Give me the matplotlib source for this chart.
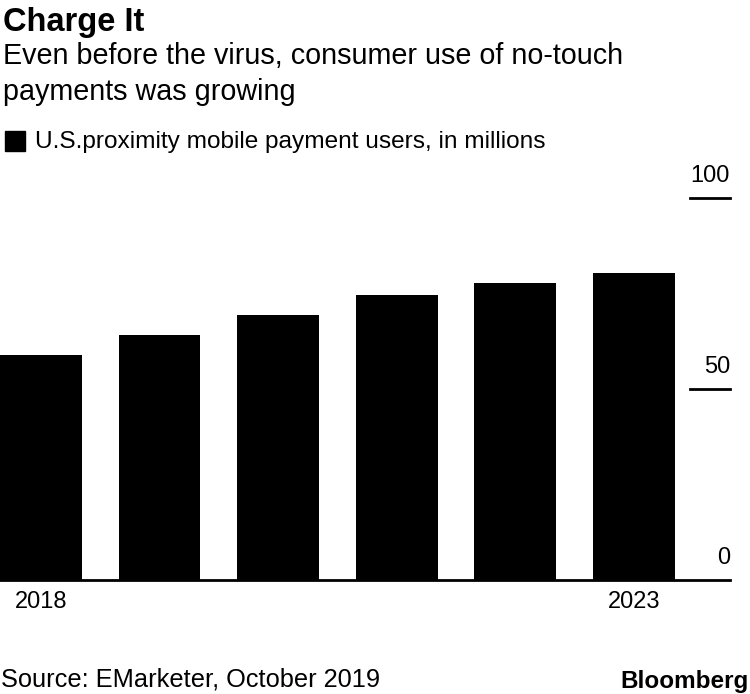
import matplotlib
matplotlib.use("Agg")
import matplotlib.pyplot as plt

years = ["2018", "2019", "2020", "2021", "2022", "2023"]
users = [58.9, 64.1, 69.4, 74.6, 77.7, 80.4]
shown_xticks = ["2018", "2023"]
yticks = [0, 50, 100]

plt.rcParams['font.family'] = ['Liberation Sans', 'DejaVu Sans']

W, H = 750, 694
fig = plt.figure(figsize=(W / 100, H / 100), dpi=100)

def fx(px):
    return px / W

def fy(py):
    return 1 - py / H

ax = fig.add_axes([0, fy(580), fx(730), fy(198) - fy(580)])
x = list(range(len(years)))
ax.bar(x, users, width=0.69, color="black", zorder=2)
ax.set_xlim(-0.345, 5.81)
ax.set_ylim(0, 100)
for s in ax.spines.values():
    s.set_visible(False)
ax.axhline(0, color="black", lw=2, zorder=3, clip_on=False)
ax.set_yticks([])
ax.set_xticks([years.index(t) for t in shown_xticks])
ax.set_xticklabels(shown_xticks, fontsize=17)
ax.tick_params(axis="x", length=0, pad=8)

for t in yticks:
    if t > 0:
        ax.plot([5.47, 5.81], [t, t], color="black", lw=2, clip_on=False, zorder=3)
    ax.annotate(str(t), xy=(5.81, t), xytext=(0, 8), textcoords="offset points",
                ha="right", va="bottom", fontsize=17, annotation_clip=False)

fig.text(fx(3), fy(31), "Charge It", fontsize=23.5, fontweight="bold", ha="left", va="baseline")
fig.text(fx(3), fy(64), "Even before the virus, consumer use of no-touch", fontsize=20.7, ha="left", va="baseline")
fig.text(fx(3), fy(100), "payments was growing", fontsize=20.7, ha="left", va="baseline")
fig.patches.append(matplotlib.patches.Rectangle((fx(5), fy(151)), fx(20), fy(131) - fy(151),
                                                 transform=fig.transFigure, color="black"))
fig.text(fx(35), fy(148), "U.S.proximity mobile payment users, in millions", fontsize=17.6, ha="left", va="baseline")
fig.text(fx(1), fy(686), "Source: EMarketer, October 2019", fontsize=18.3, ha="left", va="baseline")
fig.text(fx(749), fy(688), "Bloomberg", fontsize=17.5, fontweight="bold", ha="right", va="baseline")

fig.savefig("out.png", dpi=100)
